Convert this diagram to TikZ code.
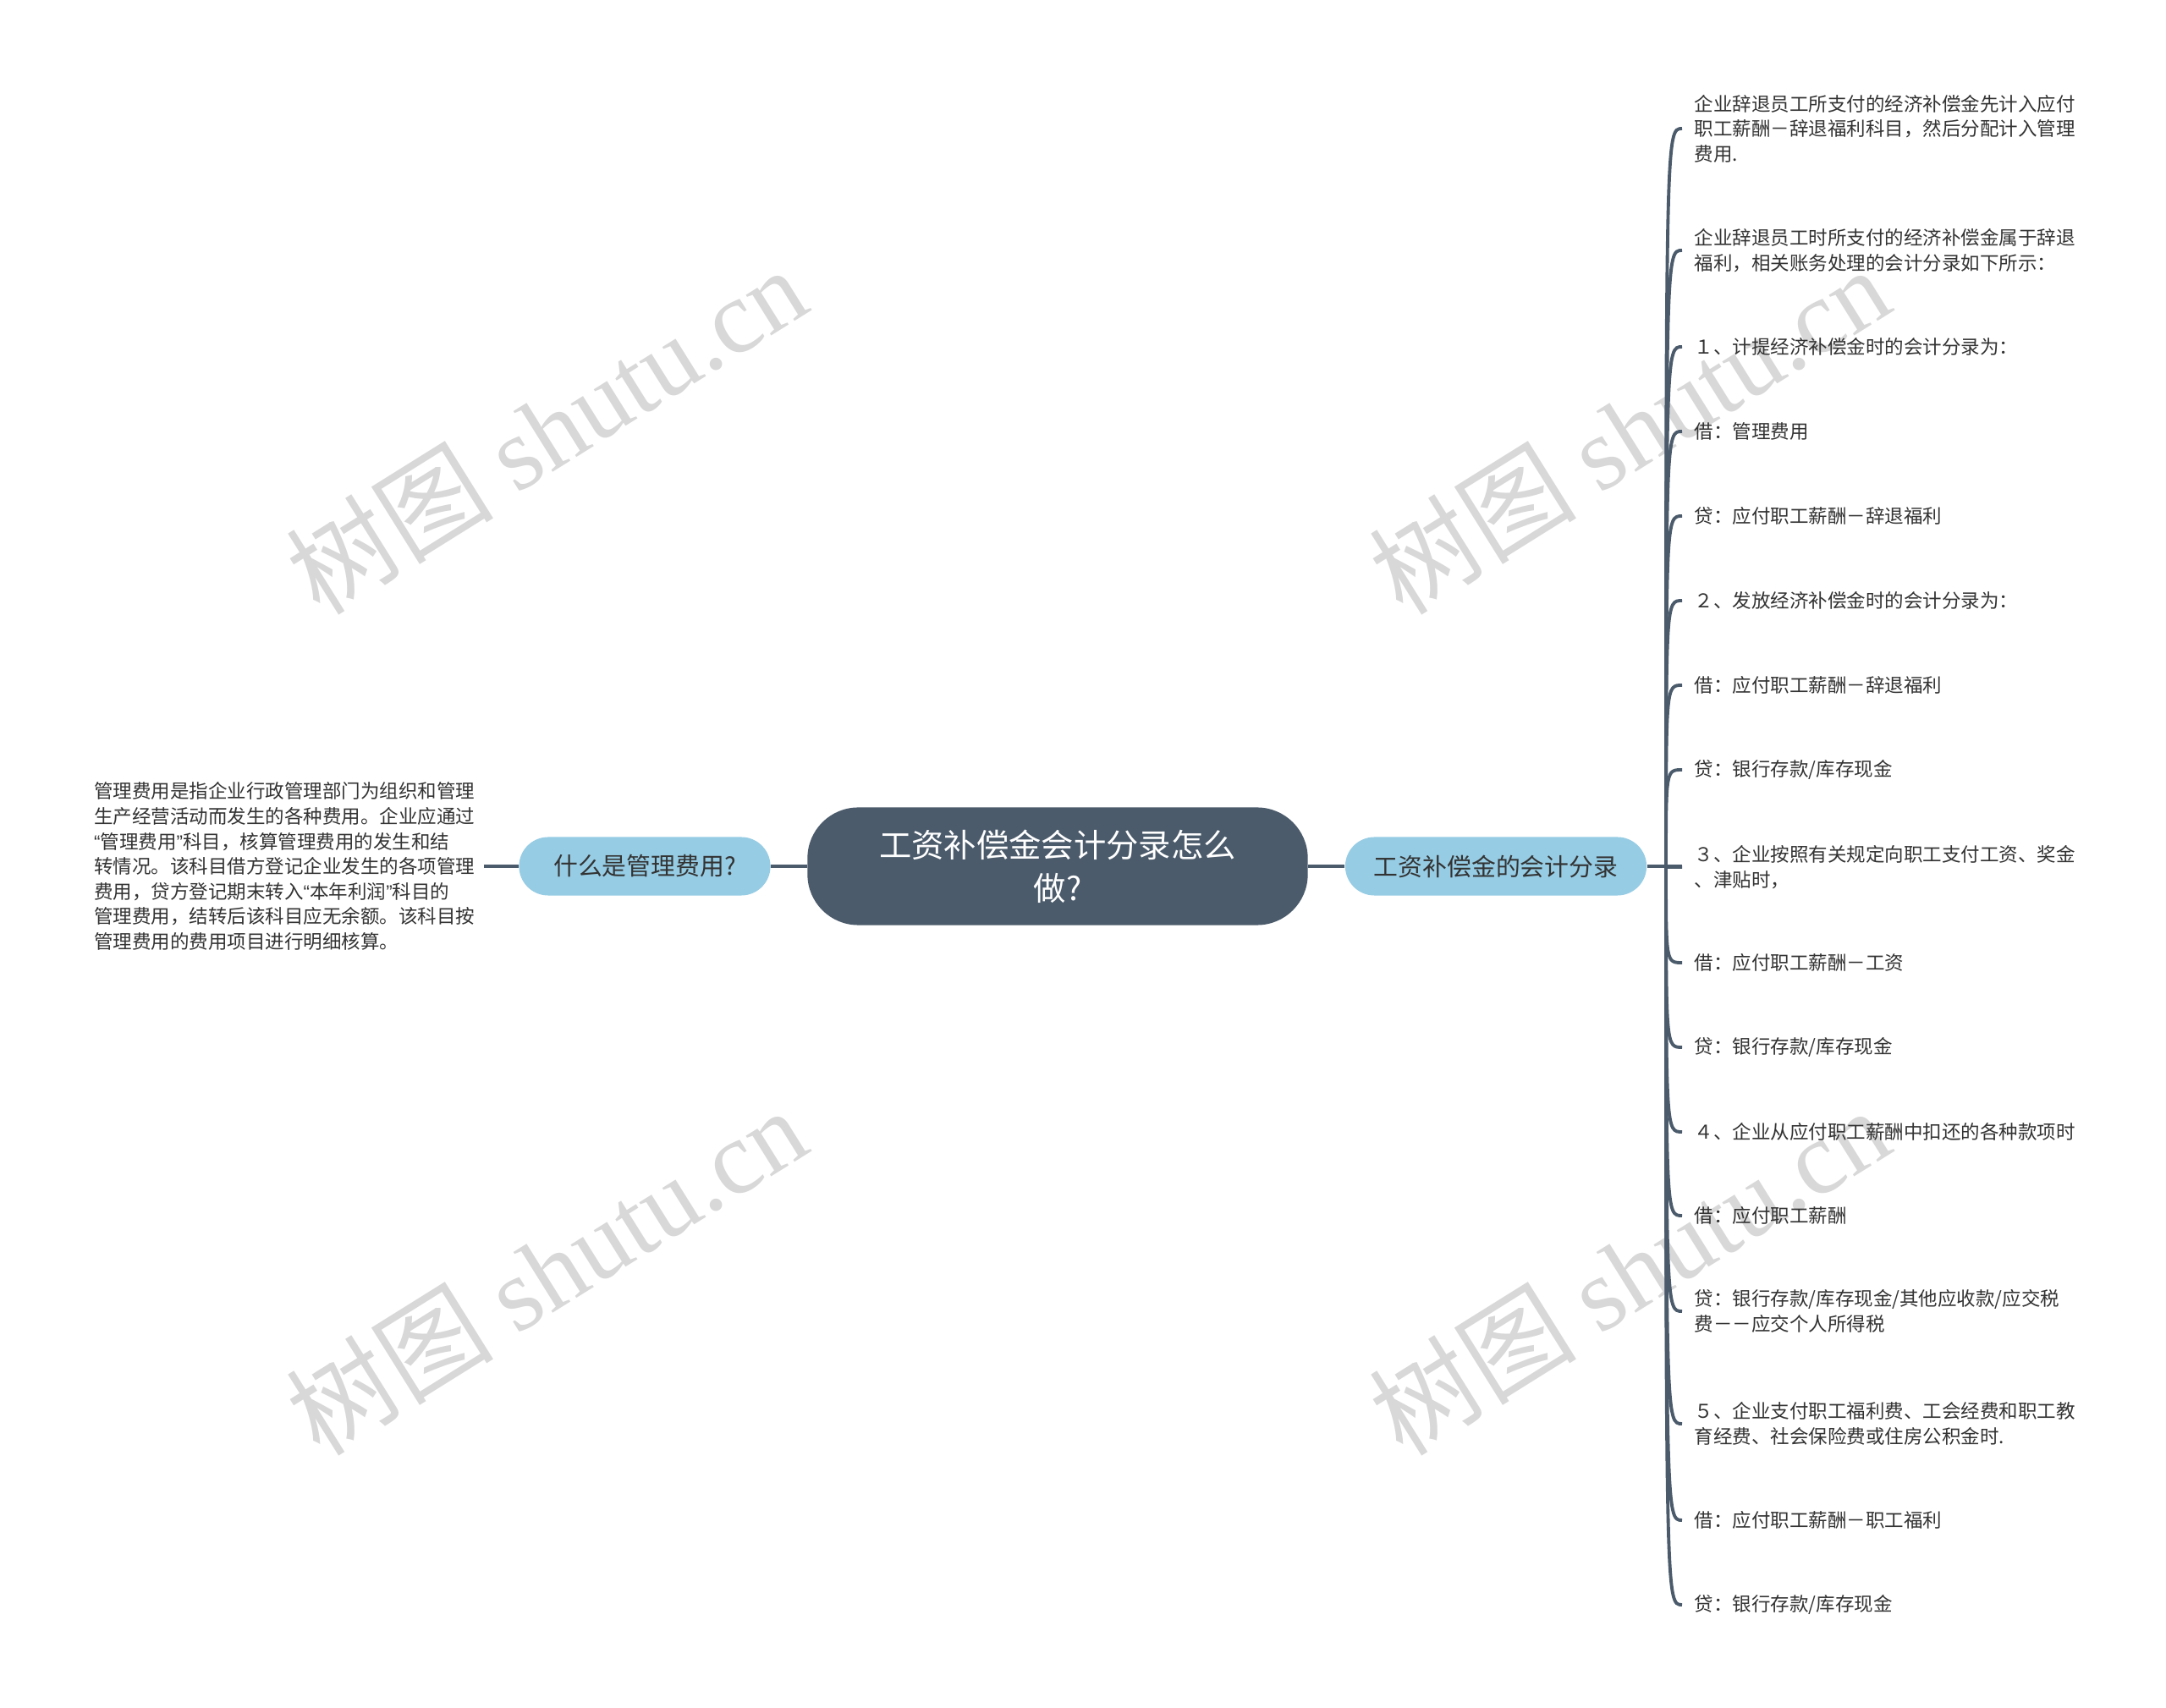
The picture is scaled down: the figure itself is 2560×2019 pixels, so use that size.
\documentclass[tikz,border=0pt]{standalone}
\usepackage{fontspec}
\setmainfont{Noto Sans CJK SC}
\newfontfamily\wmfont{Liberation Serif}
\newfontfamily\qfont{Liberation Sans}
\usetikzlibrary{positioning}

\definecolor{slate}{HTML}{4B5B6B}
\definecolor{skyblue}{HTML}{96CCE4}
\definecolor{inkgray}{HTML}{333333}
\definecolor{wmgray}{HTML}{D8D8D8}

\tikzset{
  topic/.style={fill=slate, text=white, rounded corners=0.6cm, minimum width=5.91cm,
    minimum height=1.39cm, align=center, font=\fontsize{10.9}{14.4}\selectfont},
  subtopic/.style={fill=skyblue, text=inkgray, rounded corners=0.345cm, minimum height=0.69cm,
    font=\fontsize{8.2}{10}\selectfont},
  leaf/.style={anchor=west, align=left, inner xsep=0.14cm, text=inkgray,
    font=\fontsize{6.4}{8.4}\selectfont},
  link/.style={draw=slate, line width=1.1pt},
  twig/.style={to path={.. controls (\tikztostart |- \tikztotarget) .. (\tikztotarget)}},
  wmark/.style={text=wmgray, rotate=32, font=\fontsize{35}{35}\selectfont}
}

\begin{document}
\begin{tikzpicture}[x=0.01cm, y=-0.01cm]
    \fill[white] (0,0) rectangle (2560,2019);
    \useasboundingbox (0,0) rectangle (2560,2019);
    % watermark
    \node[wmark] (wm1) at (645,508) {树图 {\wmfont shutu.cn}};
    \node[wmark] (wm2) at (1925,508) {树图 {\wmfont shutu.cn}};
    \node[wmark] (wm3) at (645,1502) {树图 {\wmfont shutu.cn}};
    \node[wmark] (wm4) at (1925,1502) {树图 {\wmfont shutu.cn}};

    \node[topic] (main) at (1250,1024) {工资补偿金会计分录怎么\\做?};
    \node[subtopic, minimum width=2.97cm] (lq) at (762,1024) {什么是管理费用?};
    \node[subtopic, minimum width=3.56cm] (rq) at (1768,1024) {工资补偿金的会计分录};
    \node[leaf, anchor=east, inner xsep=0.1cm] (ldesc) at (572,1024) {管理费用是指企业行政管理部门为组织和管理\\生产经营活动而发生的各种费用。企业应通过\\{\qfont “}管理费用{\qfont ”}科目，核算管理费用的发生和结\\转情况。该科目借方登记企业发生的各项管理\\费用，贷方登记期末转入{\qfont “}本年利润{\qfont ”}科目的\\管理费用，结转后该科目应无余额。该科目按\\管理费用的费用项目进行明细核算。};
    \draw[link] (main) -- (lq);
    \draw[link] (lq) -- (ldesc);
    \draw[link] (main) -- (rq);
    \coordinate (jr) at (1969,1024);
    \coordinate (jre) at (1988,1024);
    \draw[link] (rq) -- (jre);

    % right leaves
    \node[leaf] (r1) at (1988,152) {企业辞退员工所支付的经济补偿金先计入应付\\职工薪酬－辞退福利科目，然后分配计入管理\\费用.}; \draw[link] (jr) to[twig] (r1.west);
    \node[leaf] (r2) at (1988,296) {企业辞退员工时所支付的经济补偿金属于辞退\\福利，相关账务处理的会计分录如下所示：}; \draw[link] (jr) to[twig] (r2.west);
    \node[leaf] (r3) at (1988,410) {１、计提经济补偿金时的会计分录为：}; \draw[link] (jr) to[twig] (r3.west);
    \node[leaf] (r4) at (1988,510) {借：管理费用}; \draw[link] (jr) to[twig] (r4.west);
    \node[leaf] (r5) at (1988,610) {贷：应付职工薪酬－辞退福利}; \draw[link] (jr) to[twig] (r5.west);
    \node[leaf] (r6) at (1988,710) {２、发放经济补偿金时的会计分录为：}; \draw[link] (jr) to[twig] (r6.west);
    \node[leaf] (r7) at (1988,810) {借：应付职工薪酬－辞退福利}; \draw[link] (jr) to[twig] (r7.west);
    \node[leaf] (r8) at (1988,910) {贷：银行存款/库存现金}; \draw[link] (jr) to[twig] (r8.west);
    \node[leaf] (r9) at (1988,1025) {３、企业按照有关规定向职工支付工资、奖金\\、津贴时，}; \draw[link] (jr) to[twig] (r9.west);
    \node[leaf] (r10) at (1988,1138) {借：应付职工薪酬－工资}; \draw[link] (jr) to[twig] (r10.west);
    \node[leaf] (r11) at (1988,1238) {贷：银行存款/库存现金}; \draw[link] (jr) to[twig] (r11.west);
    \node[leaf] (r12) at (1988,1338) {４、企业从应付职工薪酬中扣还的各种款项时}; \draw[link] (jr) to[twig] (r12.west);
    \node[leaf] (r13) at (1988,1437) {借：应付职工薪酬}; \draw[link] (jr) to[twig] (r13.west);
    \node[leaf] (r14) at (1988,1550) {贷：银行存款/库存现金/其他应收款/应交税\\费－－应交个人所得税}; \draw[link] (jr) to[twig] (r14.west);
    \node[leaf] (r15) at (1988,1683) {５、企业支付职工福利费、工会经费和职工教\\育经费、社会保险费或住房公积金时.}; \draw[link] (jr) to[twig] (r15.west);
    \node[leaf] (r16) at (1988,1797) {借：应付职工薪酬－职工福利}; \draw[link] (jr) to[twig] (r16.west);
    \node[leaf] (r17) at (1988,1897) {贷：银行存款/库存现金}; \draw[link] (jr) to[twig] (r17.west);
\end{tikzpicture}
\end{document}
